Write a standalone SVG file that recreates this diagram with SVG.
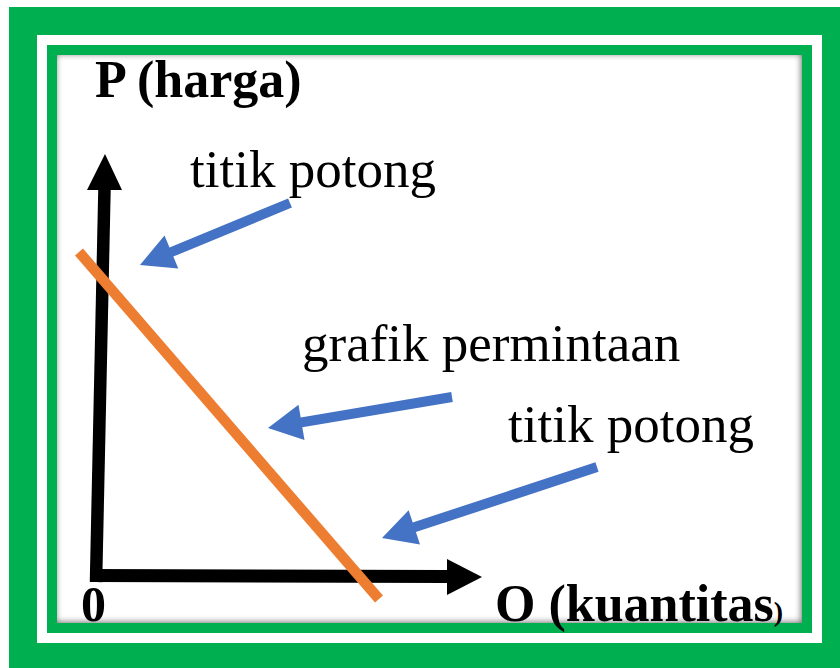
<svg xmlns="http://www.w3.org/2000/svg" width="840" height="668" viewBox="0 0 840 668">
<style>
.lbl{font-family:"Liberation Serif","Times New Roman",serif;fill:#000;font-size:53px}
.bold{font-weight:bold}
.arr{fill:#4472C4}
</style>
<defs>
<clipPath id="inner"><rect x="57" y="55" width="745" height="568"/></clipPath>
<filter id="blur" x="-10%" y="-10%" width="120%" height="120%"><feGaussianBlur stdDeviation="3"/></filter>
</defs>
<rect x="0" y="0" width="840" height="668" fill="#fff"/>
<g id="frame">
<rect x="9" y="7" width="831" height="661" fill="#00B050"/>
<rect x="37" y="35" width="785" height="608" fill="#fff"/>
<rect x="47" y="45" width="765" height="588" fill="#00B050"/>
<rect x="57" y="55" width="745" height="568" fill="#fff"/>
<g clip-path="url(#inner)">
<rect x="46" y="44" width="765" height="588" fill="none" stroke="#000" stroke-width="20" opacity="0.55" filter="url(#blur)"/>
</g>
</g>
<g id="axes">
<line x1="96" y1="582" x2="104.5" y2="188" stroke="#000" stroke-width="12.5"/>
<polygon points="105,154 122,190 87,190" fill="#000"/>
<polygon points="90,569 448,570 448,583 90,582" fill="#000"/>
<polygon points="482,577 447,595 447,559" fill="#000"/>
</g>
<g id="demand-curve">
<line x1="79" y1="252" x2="379" y2="599" stroke="#ED7D31" stroke-width="10.5"/>
</g>
<g id="label-p"><text class="lbl bold" x="95" y="97" style="font-size:52px">P (harga)</text></g>
<g id="label-titik1"><text class="lbl" x="190" y="187">titik potong</text></g>
<g id="label-grafik"><text class="lbl" x="302" y="361">grafik permintaan</text></g>
<g id="label-titik2"><text class="lbl" x="508" y="442">titik potong</text></g>
<g id="label-zero"><text class="lbl bold" x="81" y="621" style="font-size:50px">0</text></g>
<g id="label-q"><text class="lbl bold" x="495" y="621" style="font-size:52px">O (kuantitas<tspan style="font-size:28px">)</tspan></text></g>
<g id="connectors">
<polygon class="arr" points="288.1,198.4 169.5,247.4 164.5,235.4 140,265 178.3,268.6 173.3,256.6 291.9,207.6"/>
<polygon class="arr" points="451.2,392.1 300.7,417.5 298.5,404.7 268,428 304.5,440.1 302.3,427.3 452.8,401.9"/>
<polygon class="arr" points="595.4,462.3 412.7,522.5 408.6,510.2 382,538 420,544.4 415.9,532.1 598.6,471.8"/>
</g>
</svg>
